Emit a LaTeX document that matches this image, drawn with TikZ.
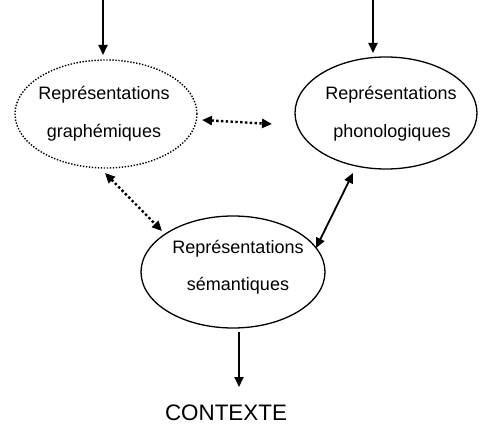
\documentclass[tikz,border=0pt]{standalone}
\usepackage{fontspec}
\setmainfont{Liberation Sans}
\usetikzlibrary{shapes.geometric,arrows.meta}
\begin{document}
\begin{tikzpicture}[x=1pt,y=-1pt,
  oval/.style={ellipse,draw,line width=1.3pt,inner sep=0pt},
  dotoval/.style={ellipse,draw,line width=1.4pt,inner sep=0pt,dash pattern=on 1.4pt off 1.6pt},
  lbl/.style={inner sep=0pt,font=\fontsize{18}{20}\selectfont},
  arr/.style={line width=1.8pt,-{Triangle[length=10pt,width=9pt]}},
  darr/.style={line width=1.8pt,{Triangle[length=10pt,width=9pt]}-{Triangle[length=10pt,width=9pt]}},
  dotarr/.style={darr,line width=2.4pt,dash pattern=on 2.4pt off 2.4pt}]
\useasboundingbox (0,0) rectangle (485,428);
% ellipses
\node[dotoval,minimum width=182pt,minimum height=108pt] (g) at (106,114) {};
\node[oval,minimum width=182pt,minimum height=112pt] (p) at (386,113) {};
\node[oval,minimum width=184pt,minimum height=112pt] (s) at (233,272) {};
% labels
\node[lbl] (g1) at (104,95) {Représentations};
\node[lbl] (g2) at (104,133) {graphémiques};
\node[lbl] (p1) at (391,95) {Représentations};
\node[lbl] (p2) at (392,133) {phonologiques};
\node[lbl] (s1) at (238,249) {Représentations};
\node[lbl] (s2) at (238,286) {sémantiques};
\node[inner sep=0pt,font=\fontsize{22.4}{24}\selectfont] (ctx) at (226,413) {CONTEXTE};
% coordinates
\coordinate (gin) at (103,0);
\coordinate (gtop) at (103,55);
\coordinate (pin) at (373,0);
\coordinate (ptop) at (373,53);
\coordinate (gr) at (202,120);
\coordinate (pl) at (272,124);
\coordinate (gb) at (105,173);
\coordinate (st) at (162,231);
\coordinate (pb) at (353,173);
\coordinate (sr) at (316,248);
\coordinate (sb) at (239,332);
\coordinate (ctop) at (239,387);
% connectors
\draw[arr] (gin) -- (gtop);
\draw[arr] (pin) -- (ptop);
\draw[dotarr] (gr) -- (pl);
\draw[dotarr] (gb) -- (st);
\draw[darr] (pb) -- (sr);
\draw[arr] (sb) -- (ctop);
\end{tikzpicture}
\end{document}
